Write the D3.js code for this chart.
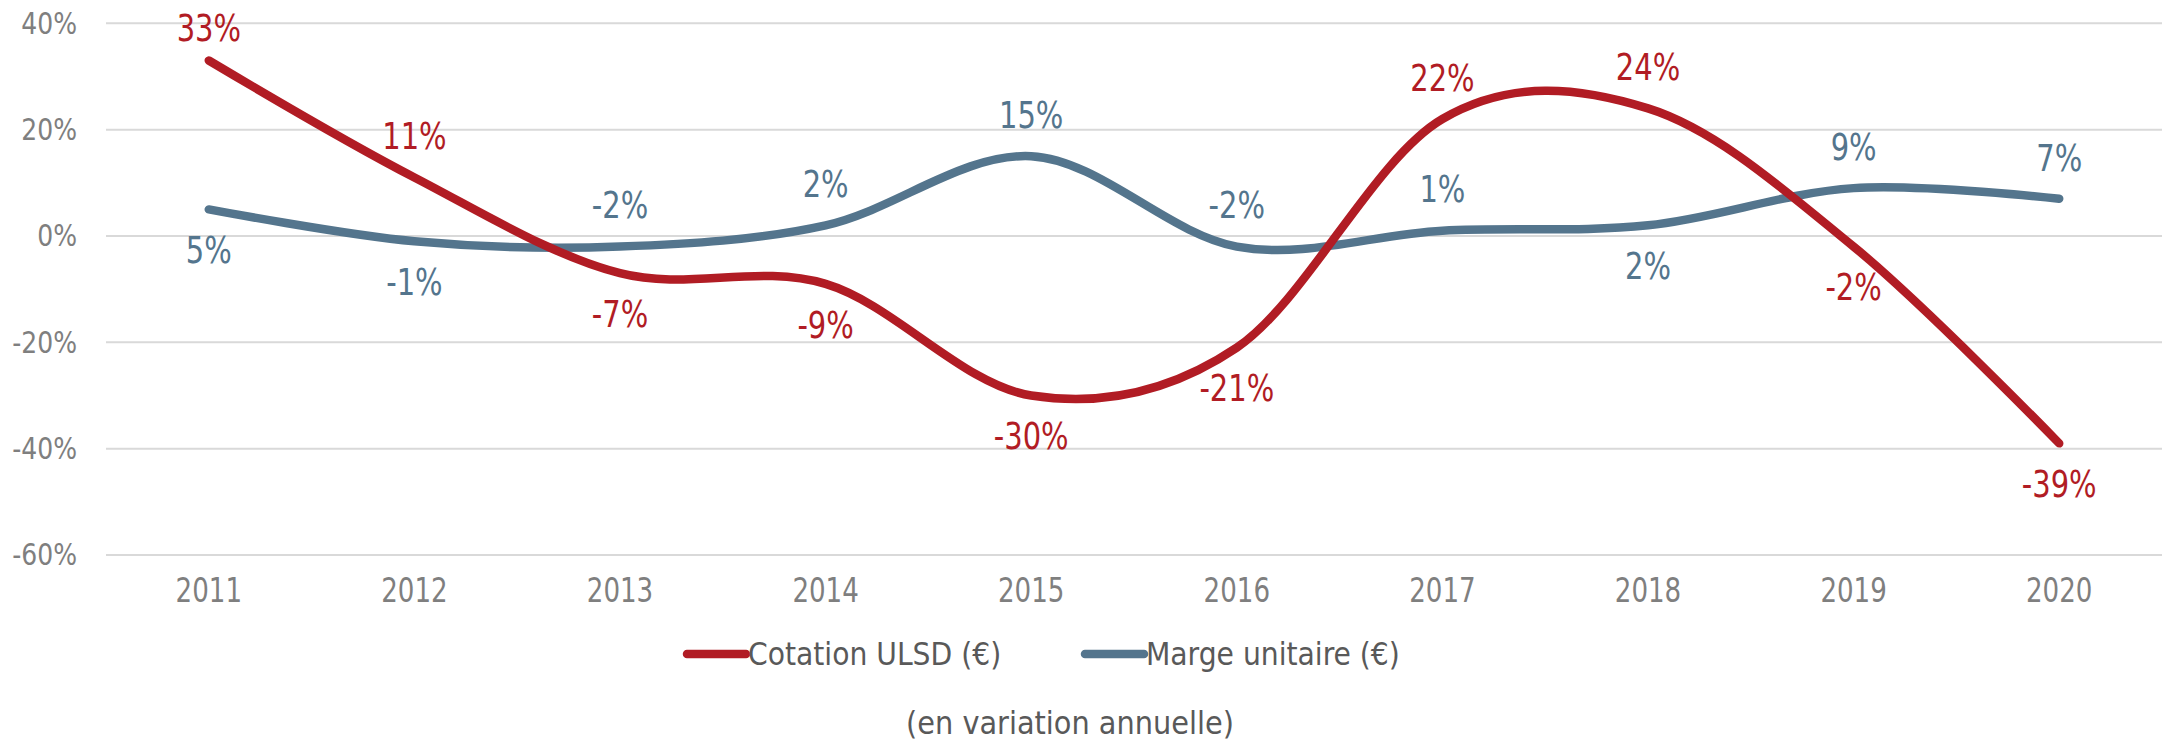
<!DOCTYPE html>
<html>
<head>
<meta charset="utf-8">
<script src="https://cdn.jsdelivr.net/npm/d3@7"></script>
<style>
  html, body { margin: 0; padding: 0; background: #fff; }
  svg { display: block; }
  text { font-family: "DejaVu Sans Condensed", "DejaVu Sans", sans-serif; }
</style>
</head>
<body>
<svg id="chart"></svg>
<script>
// values (annual change, %)
const years = ["2011", "2012", "2013", "2014", "2015", "2016", "2017", "2018", "2019", "2020"];
const cotation = [33, 11, -7, -9, -30, -21, 22, 24, -2, -39];
const marge = [5, -1, -2, 2, 15, -2, 1, 2, 9, 7];
const yTicks = [-60, -40, -20, 0, 20, 40];
const seriesNames = ["Cotation ULSD (€)", "Marge unitaire (€)"];
const subtitle = "(en variation annuelle)";

// which side of the point each data label sits on (1 = above, -1 = below)
const cotationSide = [1, 1, -1, -1, -1, -1, 1, 1, -1, -1];
const margeSide = [-1, -1, 1, 1, 1, 1, 1, -1, 1, 1];

const W = 2165, H = 744;
const red = "#b11c24", blue = "#54758d";

const svg = d3.select("#chart")
  .attr("width", W)
  .attr("height", H);

const x = d3.scaleBand()
  .domain(years)
  .range([106, 2162])
  .padding(0);

const y = d3.scaleLinear()
  .domain([-60, 40])
  .range([555, 23.3]);

const cx = d => x(d) + x.bandwidth() / 2;

// the reference font has narrow digits, squeeze the numbers a bit
const place = (px, py, sx) => `translate(${px}, ${py}) scale(${sx}, 1)`;

// gridlines
svg.append("g")
  .selectAll("line")
  .data(yTicks)
  .enter()
  .append("line")
  .attr("x1", 106)
  .attr("x2", 2162)
  .attr("y1", d => y(d))
  .attr("y2", d => y(d))
  .attr("stroke", "#d9d9d9")
  .attr("stroke-width", 2);

// y axis labels
svg.append("g")
  .selectAll("text")
  .data(yTicks)
  .enter()
  .append("text")
  .attr("transform", d => place(77, y(d), 0.93))
  .attr("text-anchor", "end")
  .attr("dominant-baseline", "central")
  .attr("fill", "#7f7f7f")
  .attr("font-size", "30px")
  .text(d => d + "%");

// x axis labels
svg.append("g")
  .selectAll("text")
  .data(years)
  .enter()
  .append("text")
  .attr("transform", d => place(cx(d), 590, 0.88))
  .attr("text-anchor", "middle")
  .attr("dominant-baseline", "central")
  .attr("fill", "#7f7f7f")
  .attr("font-size", "33px")
  .text(d => d);

const line = d3.line()
  .curve(d3.curveCardinal.tension(0))
  .x((d, i) => cx(years[i]))
  .y(d => y(d));

const series = [
  {name: seriesNames[0], values: cotation, side: cotationSide, color: red},
  {name: seriesNames[1], values: marge, side: margeSide, color: blue}
];

// draw blue first so red sits on top like the reference
series.slice().reverse().forEach(s => {
  svg.append("path")
    .attr("d", line(s.values))
    .attr("fill", "none")
    .attr("stroke", s.color)
    .attr("stroke-width", 8.5)
    .attr("stroke-linecap", "round")
    .attr("stroke-linejoin", "round");
});

series.forEach(s => {
  svg.append("g")
    .selectAll("text")
    .data(s.values)
    .enter()
    .append("text")
    .attr("transform", (d, i) => place(cx(years[i]), Math.max(28, y(d) - 41 * s.side[i]), 0.87))
    .attr("text-anchor", "middle")
    .attr("dominant-baseline", "central")
    .attr("fill", s.color)
    .attr("font-size", "37px")
    .text(d => d + "%");
});

// legend
const legendX = [687, 1085];
const legend = svg.append("g")
  .selectAll("g")
  .data(series)
  .enter()
  .append("g")
  .attr("transform", (d, i) => `translate(${legendX[i]}, 654)`);

legend.append("line")
  .attr("x1", 0)
  .attr("x2", 59)
  .attr("stroke", d => d.color)
  .attr("stroke-width", 8.5)
  .attr("stroke-linecap", "round");

legend.append("text")
  .attr("transform", place(61, 0, 0.98))
  .attr("dominant-baseline", "central")
  .attr("fill", "#595959")
  .attr("font-size", "32px")
  .text(d => d.name);

svg.append("text")
  .attr("x", 1070)
  .attr("y", 723)
  .attr("text-anchor", "middle")
  .attr("dominant-baseline", "central")
  .attr("fill", "#595959")
  .attr("font-size", "32px")
  .text(subtitle);
</script>
</body>
</html>
